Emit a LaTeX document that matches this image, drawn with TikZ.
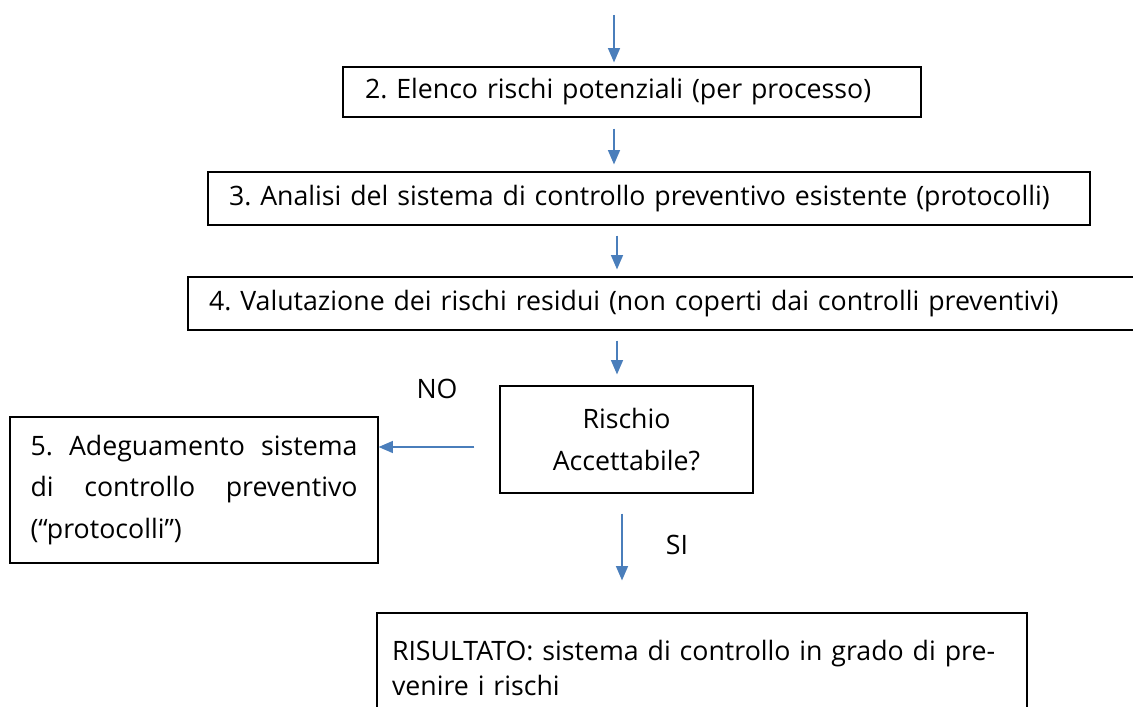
\documentclass[tikz,border=0pt]{standalone}
\usepackage{fontspec}
\setmainfont{Open Sans}
\usetikzlibrary{arrows.meta,calc}

\definecolor{freccia}{RGB}{74,126,187}
\frenchspacing

\tikzset{
  blocco/.style={draw=black,line width=0.8pt,rectangle,anchor=center,
    font=\fontsize{19}{29.5}\selectfont,inner ysep=0pt},
  etichetta/.style={font=\fontsize{19}{22}\selectfont},
  flusso/.style={draw=freccia,line width=1.1pt,
    -{Triangle[length=0.36cm,width=0.3cm]}},
}

\begin{document}
\begin{tikzpicture}[scale=1]

\useasboundingbox (0,0) rectangle (28.325,-17.675);

\coordinate (inizio) at (15.35,-0.375);

\node[blocco,minimum width=14.45cm,minimum height=1.25cm,
  text width=13.35cm,align=left,inner xsep=0.55cm] (b2) at (15.8,-2.3)
  {2. Elenco rischi potenziali (per processo)};

\node[blocco,minimum width=22.05cm,minimum height=1.325cm,
  text width=21cm,align=left,inner xsep=0.525cm] (b3) at (16.225,-4.9625)
  {3. Analisi del sistema di controllo preventivo esistente (protocolli)};

\node[blocco,minimum width=23.8cm,minimum height=1.325cm,
  text width=22.75cm,align=left,inner xsep=0.525cm] (b4) at (16.6,-7.5875)
  {4. Valutazione dei rischi residui (non coperti dai controlli preventivi)};

\node[blocco,minimum width=6.325cm,minimum height=2.675cm,
  align=center] (rischio) at (15.6625,-10.9875)
  {Rischio\\Accettabile?};

\node[blocco,minimum width=9.2cm,minimum height=3.65cm,
  text width=8.175cm,align=justify,inner xsep=0.5125cm] (b5) at (4.85,-12.25)
  {5. Adeguamento sistema\linebreak di controllo preventivo\linebreak (``protocolli'')};

\node[blocco,minimum width=16.25cm,minimum height=2.75cm,
  text width=15.5cm,align=left,inner xsep=0.375cm,
  font=\fontsize{19}{25.5}\selectfont] (ris) at (17.55,-16.7)
  {RISULTATO: sistema di controllo in grado di pre-\\venire i rischi};

\node[etichetta] (no) at (10.925,-9.725) {NO};
\node[etichetta] (si) at (16.925,-13.625) {SI};

% frecce
\draw[flusso] (inizio) -- ($(b2.north -| inizio)+(0,0.1)$);
\draw[flusso,shorten <=0.275cm,shorten >=0.175cm]
  (b2.south -| inizio) -- (b3.north -| inizio);
\draw[flusso,shorten <=0.25cm,shorten >=0.175cm]
  ($(b3.south -| inizio)+(0.075,0)$) -- ($(b4.north -| inizio)+(0.075,0)$);
\draw[flusso,shorten <=0.25cm,shorten >=0.275cm]
  ($(b4.south -| inizio)+(0.075,0)$) -- ($(rischio.north -| inizio)+(0.075,0)$);
\draw[flusso,shorten <=0.625cm] (rischio.west |- 0,-11.175) -- (b5.east |- 0,-11.175);
\draw[flusso,shorten <=0.5cm,shorten >=0.8cm]
  ($(rischio.south -| inizio)+(0.2,0)$) -- ($(ris.north -| inizio)+(0.2,0)$);

\end{tikzpicture}
\end{document}
